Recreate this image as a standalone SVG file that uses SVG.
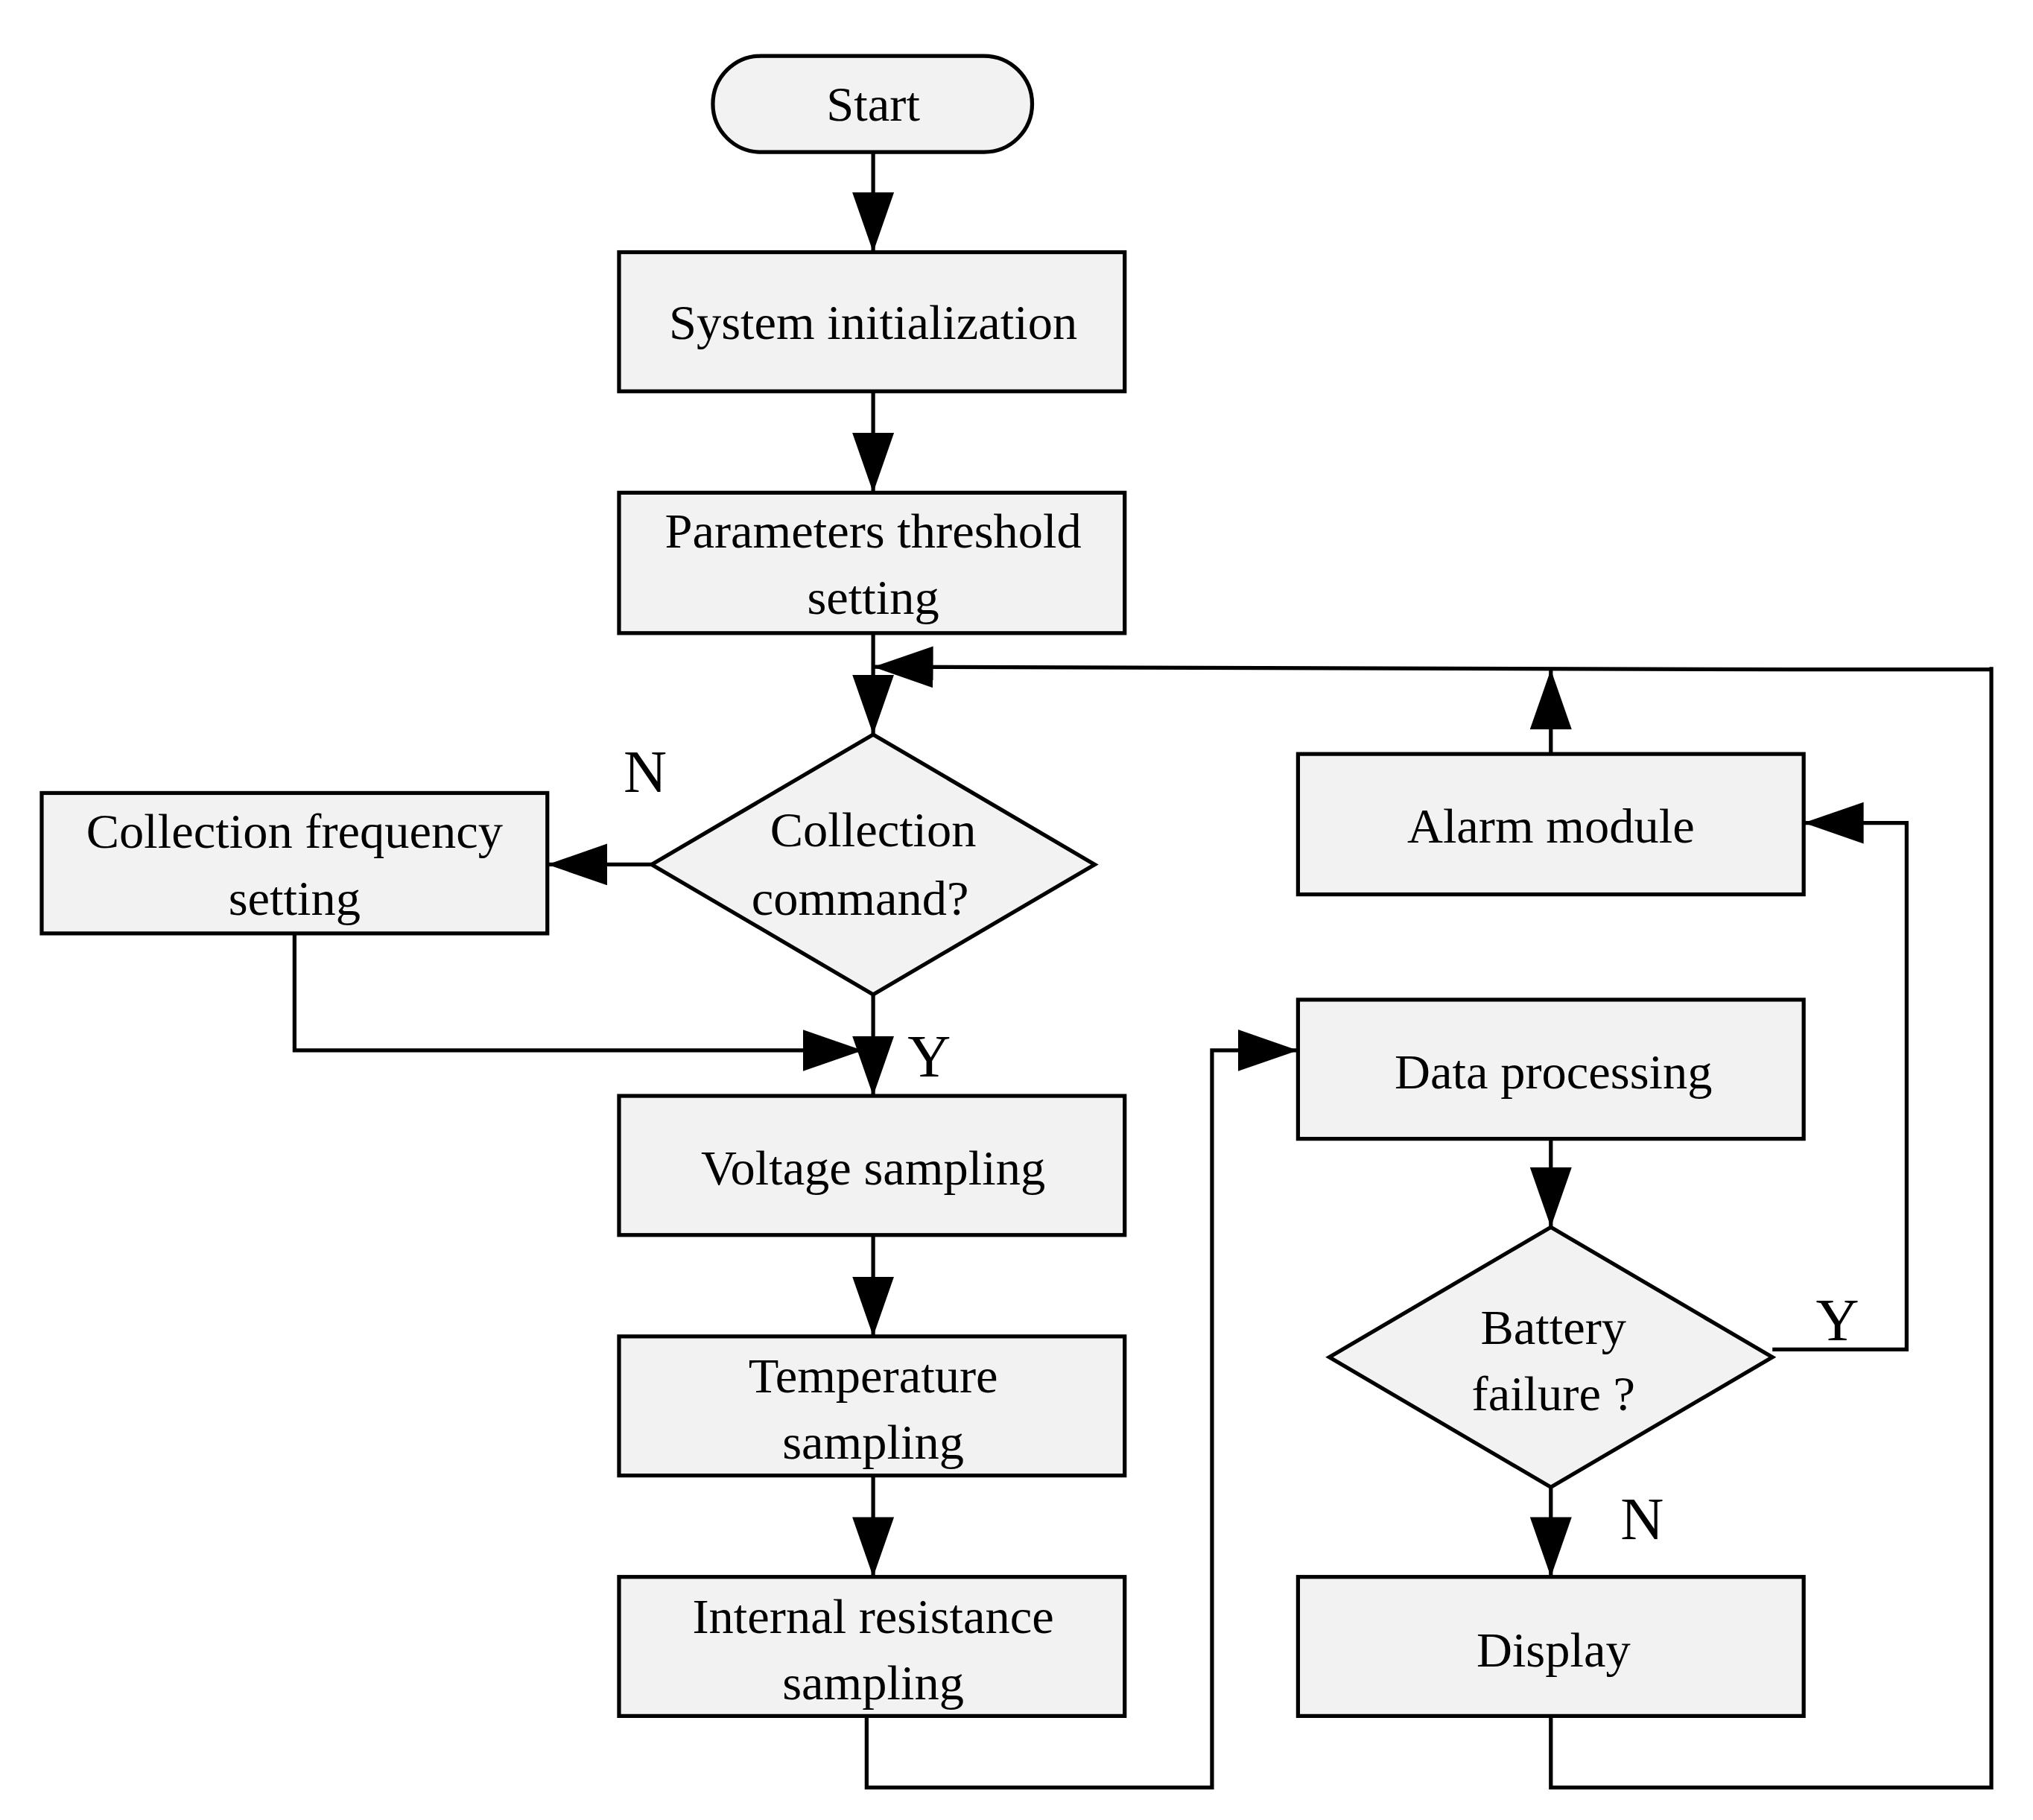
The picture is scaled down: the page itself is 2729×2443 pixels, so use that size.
<svg xmlns="http://www.w3.org/2000/svg" width="2729" height="2443" viewBox="0 0 2729 2443">
<defs>
<style>
.n{fill:#f2f2f2;stroke:#000;stroke-width:3}
.t{font-family:"Liberation Serif",serif;font-size:38px;text-anchor:middle;fill:#000}
.l{font-family:"Liberation Serif",serif;font-size:46px;text-anchor:middle;fill:#000}
.c{fill:none;stroke:#000;stroke-width:3}
</style>
<marker id="a" markerUnits="userSpaceOnUse" markerWidth="50" markerHeight="34" refX="46" refY="16" orient="auto" viewBox="0 0 50 34">
<path d="M0,0 L46,16 L0,32 Z" fill="#000"/>
</marker>
</defs>
<rect width="2729" height="2443" fill="#fff"/>
<g transform="scale(1.7494,1.745)">
<g id="start"><rect class="n" x="547" y="43" width="245" height="74" rx="37"/><text class="t" x="670" y="93">Start</text></g>
<g id="init"><rect class="n" x="475" y="194" width="388" height="107"/><text class="t" x="670" y="261">System initialization</text></g>
<g id="params"><rect class="n" x="475" y="379" width="388" height="108"/><text class="t" x="670" y="421">Parameters threshold</text><text class="t" x="670" y="472">setting</text></g>
<g id="cmd"><polygon class="n" points="670,565 840,665 670,765 500,665"/><text class="t" x="670" y="651">Collection</text><text class="t" x="660" y="704">command?</text></g>
<g id="freq"><rect class="n" x="32" y="610" width="388" height="108"/><text class="t" x="226" y="652">Collection frequency</text><text class="t" x="226" y="704">setting</text></g>
<g id="volt"><rect class="n" x="475" y="843" width="388" height="107"/><text class="t" x="670" y="911">Voltage sampling</text></g>
<g id="temp"><rect class="n" x="475" y="1028" width="388" height="107"/><text class="t" x="670" y="1071">Temperature</text><text class="t" x="670" y="1122">sampling</text></g>
<g id="ires"><rect class="n" x="475" y="1213" width="388" height="107"/><text class="t" x="670" y="1256">Internal resistance</text><text class="t" x="670" y="1307">sampling</text></g>
<g id="alarm"><rect class="n" x="996" y="580" width="388" height="108"/><text class="t" x="1190" y="648">Alarm module</text></g>
<g id="data"><rect class="n" x="996" y="769" width="388" height="107"/><text class="t" x="1192" y="837">Data processing</text></g>
<g id="fail"><polygon class="n" points="1190,944 1360,1044 1190,1144 1020,1044"/><text class="t" x="1192" y="1034">Battery</text><text class="t" x="1192" y="1085">failure ?</text></g>
<g id="display"><rect class="n" x="996" y="1213" width="388" height="107"/><text class="t" x="1192" y="1282">Display</text></g>
<g id="connectors">
<path class="c" d="M670,117 V194" marker-end="url(#a)"/>
<path class="c" d="M670,301 V379" marker-end="url(#a)"/>
<path class="c" d="M670,487 V565" marker-end="url(#a)"/>
<path class="c" d="M1528,515 L1375,515 L670,513" marker-end="url(#a)"/>
<path class="c" d="M1190,580 V515" marker-end="url(#a)"/>
<path class="c" d="M500,665 H420" marker-end="url(#a)"/>
<path class="c" d="M226,718 V808 H662" marker-end="url(#a)"/>
<path class="c" d="M670,765 V843" marker-end="url(#a)"/>
<path class="c" d="M670,950 V1028" marker-end="url(#a)"/>
<path class="c" d="M670,1135 V1213" marker-end="url(#a)"/>
<path class="c" d="M665,1320 V1375 H930 V808 H996" marker-end="url(#a)"/>
<path class="c" d="M1190,876 V944" marker-end="url(#a)"/>
<path class="c" d="M1360,1038 H1463 V633 H1384" marker-end="url(#a)"/>
<path class="c" d="M1190,1144 V1213" marker-end="url(#a)"/>
<path class="c" d="M1190,1320 V1375 H1528 V513"/>
</g>
<g id="labels">
<text class="l" x="495" y="609">N</text>
<text class="l" x="713" y="828">Y</text>
<text class="l" x="1410" y="1031">Y</text>
<text class="l" x="1260" y="1184">N</text>
</g>
</g>
</svg>
